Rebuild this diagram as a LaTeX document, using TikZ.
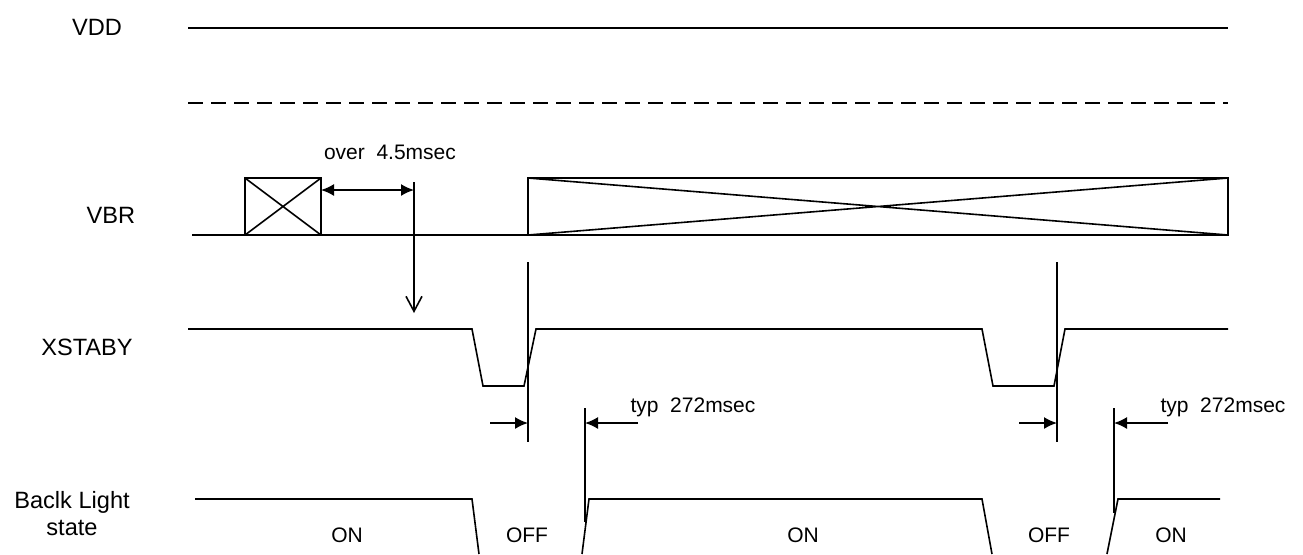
\documentclass[tikz,border=0pt]{standalone}
\usepackage{fontspec}
\setmainfont{Liberation Sans}
\usetikzlibrary{arrows.meta,positioning}

\begin{document}
\begin{tikzpicture}[x=0.5pt, y=-0.5pt,
        sig/.style={line width=0.8pt},
        lbl/.style={font=\fontsize{11.8}{13.5}\selectfont, inner sep=0pt, text depth=0pt, align=center},
        txt/.style={font=\fontsize{10.5}{12}\selectfont, inner sep=0pt, text depth=0pt},
        dimarrow/.style={line width=0.8pt, -{Latex[length=6.5pt,width=6pt]}},
        gaparrow/.style={line width=0.8pt, {Latex[length=6.5pt,width=6pt]}-{Latex[length=6.5pt,width=6pt]}},
        downarrow/.style={line width=0.8pt, -{Straight Barb[length=7.5pt,width=8pt]}}]

        \useasboundingbox (0,0) rectangle (1303,554);

        % VDD
        \node[lbl] (vdd) at (97,27) {VDD};
        \draw[sig] (188,28) -- (1228,28);
        \draw[sig, dash pattern=on 7.5pt off 4pt] (188,103) -- (1228,103);

        % VBR
        \node[lbl] (vbr) at (111,215) {VBR};
        \draw[sig] (192,235) -- (528,235);
        \draw[sig] (245,178) rectangle (321,235) (245,178) -- (321,235) (245,235) -- (321,178);
        \draw[sig] (528,178) rectangle (1228,235) (528,178) -- (1228,235) (528,235) -- (1228,178);

        % over 4.5msec
        \node[txt] (tover) at (390,152) {over\ \ 4.5msec};
        \coordinate (vbrend) at (321,190);
        \coordinate (wait) at (414,190);
        \draw[gaparrow] (vbrend) -- (wait);
        \draw[downarrow] (414,182) -- (414,313);

        % XSTABY
        \node[lbl] (xstaby) at (87,347) {XSTABY};
        \draw[sig] (188,329) -- (472,329) -- (483,386) -- (524,386) -- (536,329)
            -- (982,329) -- (993,386) -- (1054,386) -- (1065,329) -- (1228,329);

        % marker lines
        \coordinate (m1) at (528,423);
        \coordinate (m2) at (585,423);
        \coordinate (m3) at (1057,423);
        \coordinate (m4) at (1114,423);
        \draw[sig] (528,262) -- (528,442);
        \draw[sig] (585,408) -- (585,522);
        \draw[sig] (1057,262) -- (1057,442);
        \draw[sig] (1114,408) -- (1114,513);
        \draw[dimarrow] (490,423) -- (m1);
        \draw[dimarrow] (638,423) -- (m2);
        \draw[dimarrow] (1019,423) -- (m3);
        \draw[dimarrow] (1168,423) -- (m4);
        \node[txt] (typ1) at (693,405) {typ\ \ 272msec};
        \node[txt] (typ2) at (1223,405) {typ\ \ 272msec};

        % Back light
        \node[lbl] (bl) at (72,513) {Baclk Light\\state};
        \draw[sig] (195,499) -- (472,499) -- (479,554);
        \draw[sig] (582,554) -- (589,499) -- (982,499) -- (992,554);
        \draw[sig] (1107,554) -- (1118,499) -- (1220,499);
        \node[txt] (on1) at (347,535) {ON};
        \node[txt] (off1) at (527,535) {OFF};
        \node[txt] (on2) at (803,535) {ON};
        \node[txt] (off2) at (1049,535) {OFF};
        \node[txt] (on3) at (1171,535) {ON};

\end{tikzpicture}
\end{document}
